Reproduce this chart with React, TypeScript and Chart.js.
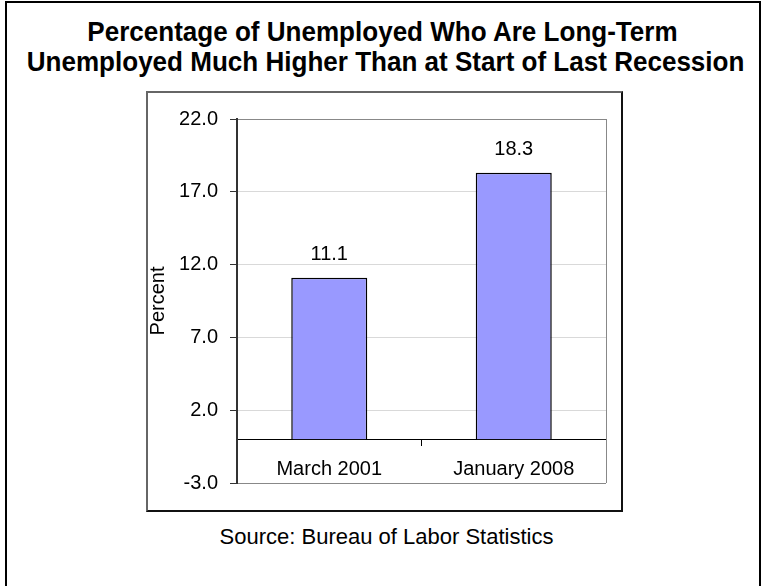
import React, { useEffect, useRef } from "react";
import { Chart, registerables } from "chart.js";

Chart.register(...registerables);

const categories = ["March 2001", "January 2008"];
const values = [11.1, 18.3];
const yTicks = [-3, 2, 7, 12, 17, 22];
const titleLines = [
  "Percentage of Unemployed Who Are Long-Term",
  "Unemployed Much Higher Than at Start of Last Recession",
];
const yTitle = "Percent";
const sourceText = "Source: Bureau of Labor Statistics";

const FONT = '"Liberation Sans", Arial, sans-serif';

export default function App() {
  const ref = useRef<HTMLCanvasElement | null>(null);

  useEffect(() => {
    if (!ref.current) return;
    const frame = {
      id: "frame",
      beforeDatasetsDraw(chart: any) {
        const { ctx, chartArea } = chart;
        ctx.save();
        ctx.strokeStyle = "#888";
        ctx.lineWidth = 1;
        ctx.beginPath();
        ctx.moveTo(Math.round(chartArea.right) + 0.5, chartArea.top);
        ctx.lineTo(Math.round(chartArea.right) + 0.5, chartArea.bottom);
        ctx.stroke();
        ctx.restore();
      },
      afterDatasetsDraw(chart: any) {
        const { ctx } = chart;
        const meta = chart.getDatasetMeta(0);
        ctx.save();
        ctx.fillStyle = "#000";
        ctx.font = `20px ${FONT}`;
        ctx.textAlign = "center";
        ctx.textBaseline = "alphabetic";
        meta.data.forEach((el: any, i: number) => {
          ctx.fillText(values[i].toFixed(1), el.x, el.y - 18);
        });
        ctx.restore();
      },
    };

    const chart = new Chart(ref.current, {
      type: "bar",
      data: {
        labels: categories,
        datasets: [
          {
            data: values,
            backgroundColor: "#9999FF",
            borderColor: "#000",
            borderWidth: 1.5,
            barPercentage: 0.412,
            categoryPercentage: 1,
          },
        ],
      },
      options: {
        animation: false,
        responsive: false,
        maintainAspectRatio: false,
        layout: { padding: { left: 0, right: 17, top: 28, bottom: 29 } },
        plugins: { legend: { display: false }, tooltip: { enabled: false } },
        scales: {
          x: {
            position: { y: 0 } as any,
            afterFit: (s: any) => {
              s.height = 0;
            },
            grid: {
              drawOnChartArea: false,
              drawTicks: true,
              tickLength: 6,
              tickColor: "#000",
              offset: true,
            },
            border: { color: "#000", width: 1 },
            ticks: { color: "#000", font: { family: FONT, size: 20 }, padding: 12 },
          },
          y: {
            min: -3,
            max: 22,
            afterFit: (s: any) => {
              s.width = 91;
            },
            afterBuildTicks: (s: any) => {
              s.ticks = yTicks.map((v) => ({ value: v }));
            },
            ticks: {
              color: "#000",
              font: { family: FONT, size: 20 },
              padding: 12,
              callback: (v: any) => Number(v).toFixed(1),
            },
            grid: {
              color: (c: any) =>
                c.tick && (c.tick.value === 22 || c.tick.value === -3) ? "#888" : "#d9d9d9",
              tickColor: "#333",
              tickLength: 7,
            },
            border: { color: "#333", width: 2 },
            title: {
              display: true,
              text: yTitle,
              color: "#000",
              font: { family: FONT, size: 20 },
              padding: 0,
            },
          },
        },
      },
      plugins: [frame],
    });
    return () => chart.destroy();
  }, []);

  return (
    <div
      style={{
        position: "absolute",
        left: 0,
        top: 0,
        width: 765,
        height: 586,
        background: "#fff",
        overflow: "hidden",
      }}
    >
      <div
        style={{
          position: "absolute",
          left: 5,
          top: 1,
          width: 756,
          height: 620,
          boxSizing: "border-box",
          borderTop: "2px solid #000",
          borderLeft: "2px solid #000",
          borderRight: "2px solid #000",
        }}
      />
      <div
        style={{
          position: "absolute",
          left: 0,
          top: 17,
          width: 765,
          textAlign: "center",
          fontFamily: FONT,
          fontWeight: "bold",
          fontSize: 28,
          lineHeight: "30px",
          color: "#000",
          transform: "scaleX(0.93)",
          transformOrigin: "382px 0",
        }}
      >
        {titleLines.map((t, i) => (
          <div key={i} style={{ whiteSpace: "nowrap" }}>
            {t}
          </div>
        ))}
      </div>
      <canvas
        ref={ref}
        width={477}
        height={421}
        style={{ position: "absolute", left: 146, top: 91, width: 477, height: 421 }}
      />
      <div
        style={{
          position: "absolute",
          left: 146,
          top: 91,
          width: 477,
          height: 421,
          boxSizing: "border-box",
          borderTop: "2px solid #666",
          borderLeft: "2px solid #666",
          borderRight: "2px solid #111",
          borderBottom: "2px solid #111",
          pointerEvents: "none",
        }}
      />
      <div
        style={{
          position: "absolute",
          left: 4,
          top: 524,
          width: 765,
          textAlign: "center",
          fontFamily: FONT,
          fontSize: 22,
          lineHeight: "26px",
          color: "#000",
        }}
      >
        {sourceText}
      </div>
    </div>
  );
}
